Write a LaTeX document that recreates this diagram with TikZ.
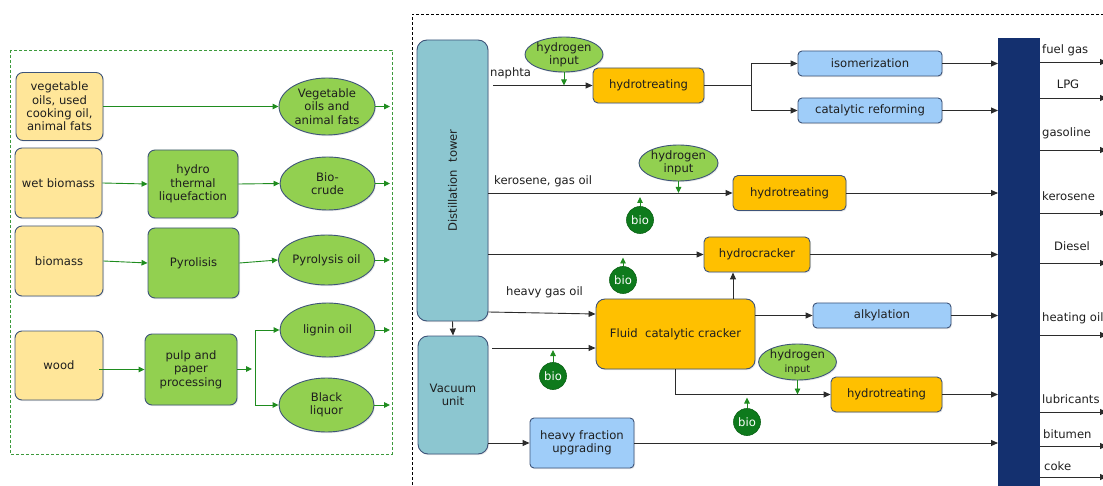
\documentclass[tikz,border=0pt]{standalone}
\usepackage{fontspec}
\setmainfont{DejaVu Sans}
\usetikzlibrary{arrows.meta,shapes.geometric,calc,shadows}
\definecolor{cyel}{HTML}{FFE699}
\definecolor{cgrn}{HTML}{92D050}
\definecolor{corg}{HTML}{FFC000}
\definecolor{cblu}{HTML}{9FCDF9}
\definecolor{cteal}{HTML}{8CC6D0}
\definecolor{cbio}{HTML}{0E7A1C}
\definecolor{cnavy}{HTML}{14306F}
\definecolor{cedge}{HTML}{3E5479}
\definecolor{cline}{HTML}{2B2B2B}
\definecolor{carr}{HTML}{1F8C1F}
\definecolor{ctxt}{HTML}{1E1E1E}
\definecolor{cdash}{HTML}{3C9A3C}
\begin{document}
\begin{tikzpicture}[x=1pt,y=-1pt,
  txt/.style={text=ctxt, inner sep=0pt, font=\fontsize{11.6}{13.3}\selectfont},
  base/.style={txt, draw=cedge, line width=0.9pt, align=center,
    drop shadow={shadow xshift=1pt,shadow yshift=-1.2pt,opacity=0.18}},
  sz/.style 2 args={minimum width=#1pt, minimum height=#2pt},
  ybox/.style={base, rectangle, rounded corners=7pt, fill=cyel},
  gbox/.style={base, rectangle, rounded corners=7pt, fill=cgrn},
  gell/.style={base, ellipse, fill=cgrn},
  obox/.style={base, rectangle, rounded corners=5pt, fill=corg},
  bbox/.style={base, rectangle, rounded corners=4pt, fill=cblu},
  tbox/.style={base, rectangle, rounded corners=10pt, fill=cteal},
  bio/.style={circle, fill=cbio, draw=cbio!80!black, line width=0.6pt, text=white,
    minimum size=27pt, inner sep=0pt, font=\fontsize{11.6}{13.3}\selectfont},
  barr/.style={draw=cline, line width=0.9pt, -{Triangle[length=7pt,width=6pt]}},
  bline/.style={draw=cline, line width=0.9pt},
  garr/.style={draw=carr, line width=0.9pt, -{Triangle[length=6pt,width=5.5pt]}},
  gline/.style={draw=carr, line width=0.9pt}
]
\useasboundingbox (0,0) rectangle (1103,486);
\clip (0,0) rectangle (1103,486);

% ---------- left panel ----------
\draw[cdash, line width=0.9pt, dash pattern=on 3pt off 2pt] (10,50) rectangle (392,454);

\node[ybox, sz={87}{68}] (veg) at (59.5,106.5) {vegetable\\oils, used\\cooking oil,\\animal fats};
\node[ybox, sz={87}{70}] (wet) at (58.5,183) {wet biomass};
\node[ybox, sz={88}{70}] (biom) at (59,261) {biomass};
\node[ybox, sz={88}{69}] (wood) at (59,365.5) {wood};

\node[gbox, sz={90}{68}] (htl) at (193,184) {hydro\\thermal\\liquefaction};
\node[gbox, sz={91}{70}] (pyr) at (193.5,263) {Pyrolisis};
\node[gbox, sz={92}{71}] (pulp) at (191,369.5) {pulp and\\paper\\processing};

\node[gell, sz={96}{57}] (e1) at (327,106.5) {Vegetable\\oils and\\animal fats};
\node[gell, sz={95}{53}] (e2) at (327.5,183.5) {Bio-\\crude};
\node[gell, sz={95}{50}] (e3) at (326.5,260) {Pyrolysis oil};
\node[gell, sz={95}{54}] (e4) at (327.5,330) {lignin oil};
\node[gell, sz={95}{54}] (e5) at (326.5,405) {Black\\liquor};

\coordinate (bl) at (390,0);
\coordinate (pj) at (252,369);
\coordinate (pv) at (255,369);

\draw[garr] (veg.east |- e1.west) -- (e1.west);
\draw[garr] (e1.east) -- (e1.east -| bl);
\draw[garr] (wet.east) -- (htl.west);
\draw[garr] (htl.east) -- (e2.west);
\draw[garr] (e2.east) -- (e2.east -| bl);
\draw[garr] (biom.east) -- (pyr.west);
\draw[garr] (pyr.east) -- (e3.west);
\draw[garr] (e3.east) -- (e3.east -| bl);
\draw[garr] ([xshift=-4pt]wood.east |- pulp.west) -- (pulp.west);
\draw[garr] (pulp.east |- pj) -- (pj);
\draw[garr] (pv) |- (e4.west);
\draw[garr] (pv) |- (e5.west);
\draw[garr] (e4.east) -- (e4.east -| bl);
\draw[garr] (e5.east) -- (e5.east -| bl);

% ---------- right panel ----------
\draw[black, line width=0.8pt, dash pattern=on 3pt off 2pt] (412,490) -- (412,14) -- (1106,14);

\node[tbox, sz={71}{281}] (dist) at (452.5,180.5) {};
\node[txt, rotate=90] (distt) at (dist.center) {Distillation\ \ tower};
\node[tbox, sz={70}{118}] (vac) at (453,395) {Vacuum\\unit};

\node[fill=cnavy, minimum width=42pt, minimum height=470pt, inner sep=0pt, anchor=north west] (bar) at (998,38) {};

\node[obox, sz={111}{35}] (ht1) at (648.5,85.5) {hydrotreating};
\node[gell, sz={78}{35}] (h1) at (564,54.5) {hydrogen\\input};
\node[bbox, sz={144}{25}] (iso) at (870,63.5) {isomerization};
\node[bbox, sz={144}{25}] (ref) at (870,110.5) {catalytic reforming};

\node[gell, sz={79}{36}] (h2) at (678.5,163) {hydrogen\\input};
\node[obox, sz={113}{35}] (ht2) at (789.5,193) {hydrotreating};
\node[bio] (bio1) at (640,220) {bio};

\node[obox, sz={106}{35}] (hc) at (757,254.5) {hydrocracker};
\node[bio] (bio2) at (623,280) {bio};

\node[obox, rounded corners=9pt, sz={159}{70}] (fcc) at (675.5,334) {Fluid\ \ catalytic cracker};
\node[bbox, sz={138}{25}] (alk) at (882,315.5) {alkylation};
\node[bio] (bio3) at (553,376) {bio};

\node[gell, sz={77}{36}] (h3) at (797.5,362) {hydrogen\\{\fontsize{10}{11}\selectfont input}};
\node[obox, sz={111}{35}] (ht3) at (886.5,394.5) {hydrotreating};
\node[bio] (bio4) at (747,422) {bio};

\node[bbox, sz={104}{50}] (hfu) at (582,443) {heavy fraction\\upgrading};

% labels on streams
\node[txt, anchor=west] (lnap) at (490,73) {naphta};
\node[txt, anchor=west] (lker) at (494,181) {kerosene, gas oil};
\node[txt, anchor=west] (lhgo) at (506,292) {heavy gas oil};

% helper coordinates
\coordinate (x751) at (751,0);
\coordinate (x733) at (733,0);

% distillation / vacuum outputs
\draw[barr] (dist.south) -- (vac.north);
\draw[barr] ([xshift=5pt]dist.east |- ht1.west) -- (ht1.west);
\draw[bline] (ht1.east) -- (ht1.east -| x751);
\draw[barr] (ht1.east -| x751) |- (iso.west);
\draw[barr] (ht1.east -| x751) |- (ref.west);
\draw[barr] (iso.east) -- (iso.east -| bar.west);
\draw[barr] (ref.east) -- (ref.east -| bar.west);
\draw[garr] (h1.south) -- (h1.south |- ht1.west);

\draw[barr] (dist.east |- ht2.west) -- (ht2.west);
\draw[barr] (ht2.east) -- (ht2.east -| bar.west);
\draw[garr] (h2.south) -- (h2.south |- ht2.west);
\draw[garr] (bio1.north) -- ($(bio1.north |- ht2.west)+(0,4)$);

\draw[barr] (dist.east |- hc.west) -- (hc.west);
\draw[barr] (hc.east) -- (hc.east -| bar.west);
\draw[garr] (bio2.north) -- ($(bio2.north |- hc.west)+(0,3)$);

\draw[barr] ($(dist.east)+(0,131.5)$) -- ($(fcc.west)+(0,-20)$);
\draw[barr] (fcc.north -| x733) -- (hc.south -| x733);
\draw[barr] (fcc.east |- alk.west) -- (alk.west);
\draw[barr] (alk.east) -- (alk.east -| bar.west);

\draw[barr] ($(vac.east |- fcc.west)+(4,14)$) -- ($(fcc.west)+(0,14)$);
\draw[garr] (bio3.north) -- ($(bio3.north |- fcc.west)+(0,16)$);

\draw[barr] (fcc.south) |- (ht3.west);
\draw[garr] (h3.south) -- (h3.south |- ht3.west);
\draw[garr] (bio4.north) -- ($(bio4.north |- ht3.west)+(0,3)$);
\draw[barr] (ht3.east) -- (ht3.east -| bar.west);

\draw[barr] (vac.east |- hfu.west) -- (hfu.west);
\draw[barr] (hfu.east) -- (hfu.east -| bar.west);

% products
\coordinate (o1) at (1107,62);
\coordinate (o2) at (1107,98);
\coordinate (o3) at (1107,150);
\coordinate (o4) at (1107,213);
\coordinate (o5) at (1107,263);
\coordinate (o6) at (1107,335);
\coordinate (o7) at (1107,412);
\coordinate (o8) at (1107,446);
\coordinate (o9) at (1107,477);
\foreach \o in {o1,o2,o3,o4,o5,o6,o7,o8,o9}{
  \draw[barr] (\o -| bar.east) -- (\o);
}
\node[txt, anchor=west] (p1) at (1042,50) {fuel gas};
\node[txt] (p2) at (1068,84) {LPG};
\node[txt, anchor=west] (p3) at (1042,133) {gasoline};
\node[txt, anchor=west] (p4) at (1042,196) {kerosene};
\node[txt] (p5) at (1072,246) {Diesel};
\node[txt, anchor=west] (p6) at (1042,318) {heating oil};
\node[txt, anchor=west] (p7) at (1042,399) {lubricants};
\node[txt, anchor=west] (p8) at (1043,434) {bitumen};
\node[txt, anchor=west] (p9) at (1044,466) {coke};
\end{tikzpicture}
\end{document}
